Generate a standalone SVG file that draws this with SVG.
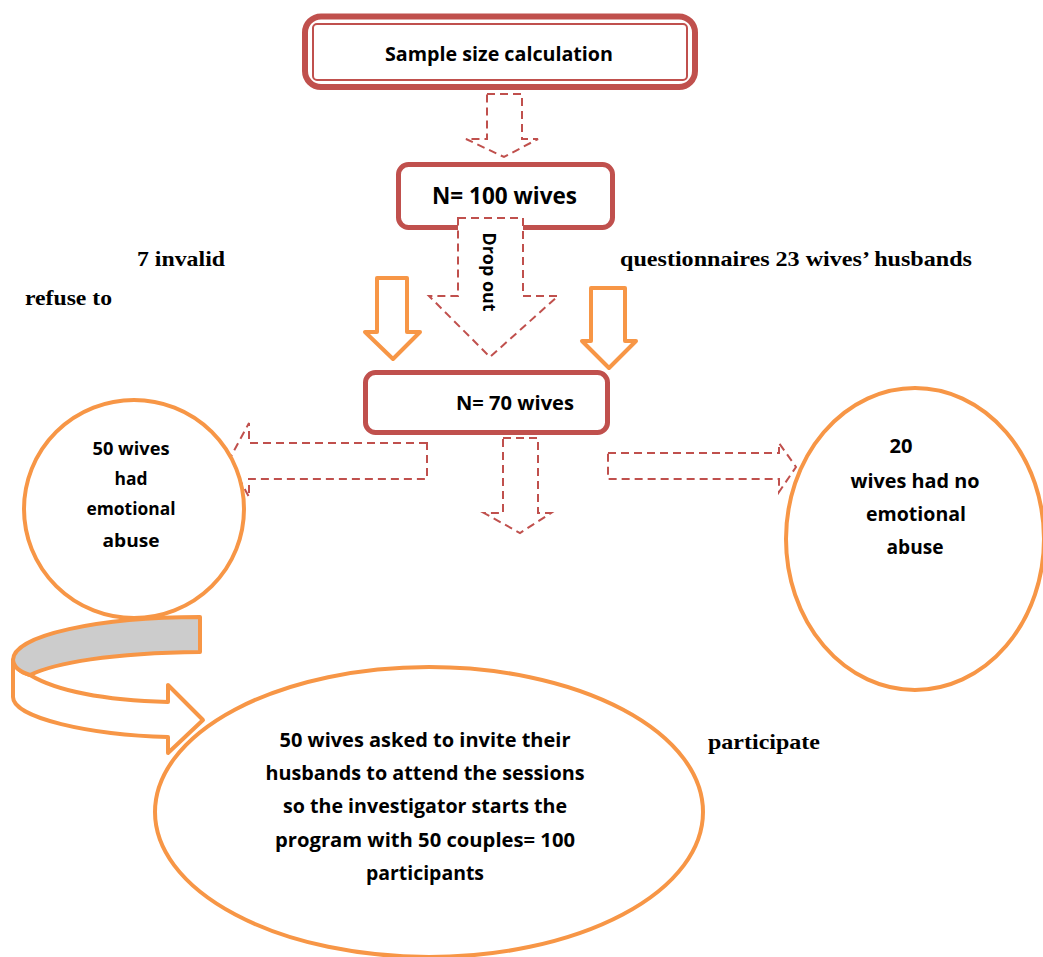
<svg xmlns="http://www.w3.org/2000/svg" width="1043" height="957" viewBox="0 0 1043 957">
<style>
.rbox{fill:#fff;stroke:#C0504D;stroke-width:5}
.dash{fill:#fff;stroke:#C0504D;stroke-width:2;stroke-dasharray:8 5}
.orng{fill:#fff;stroke:#F79646;stroke-width:4;stroke-linejoin:round}
.lbl{font-family:"Open Sans","Liberation Sans",sans-serif;font-weight:bold;fill:#000;text-anchor:middle}
.tnr{font-family:"Liberation Serif","Times New Roman",serif;font-weight:bold;font-size:22px;fill:#000}
</style>
<rect width="1043" height="957" fill="#fff"/>

<g id="node-sample">
<rect x="305" y="16.5" width="390" height="70.5" rx="16" fill="#fff" stroke="#C0504D" stroke-width="6"/>
<rect x="313" y="24" width="374" height="56" rx="4" fill="none" stroke="#C0504D" stroke-width="2"/>
<text class="lbl" x="499" y="61" font-size="20" textLength="228" lengthAdjust="spacingAndGlyphs">Sample size calculation</text>
</g>

<g id="node-n100">
<rect class="rbox" x="398.5" y="164.5" width="214" height="63" rx="10"/>
<text class="lbl" x="504.5" y="204" font-size="23" textLength="145" lengthAdjust="spacingAndGlyphs">N= 100 wives</text>
</g>

<g id="node-n70">
<rect class="rbox" x="365.5" y="372.5" width="242" height="60" rx="10"/>
<text class="lbl" x="515" y="410" font-size="19" textLength="118" lengthAdjust="spacingAndGlyphs">N= 70 wives</text>
</g>

<g id="connectors">
<polygon class="dash" points="487,94 522,94 522,139 538,139 504,157 466,139 487,139"/>
<polygon class="dash" points="458,218 523,218 523,296 558,296 490,357 429,296 458,296"/>
<text class="lbl" transform="translate(483,272) rotate(90)" font-size="17" textLength="79" lengthAdjust="spacingAndGlyphs">Drop out</text>
<polygon class="orng" points="377,278 407,278 407,332 420,332 393,359 365,332 377,332"/>
<polygon class="orng" points="591,288 625,288 625,341 636,341 609,368 582,341 591,341"/>
<polygon class="dash" points="503,438 538,438 538,513 551,513 520,533 484,513 503,513"/>
<polygon class="dash" points="427,443 249,443 249,423 229,460 249,497 249,479 427,479"/>
<polygon class="dash" points="608,453 779,453 779,443 796,467 779,492 779,479 608,479"/>
</g>

<g id="node-abuse">
<ellipse class="orng" cx="134" cy="509" rx="110" ry="109"/>
<text class="lbl" x="131" y="455" font-size="18" textLength="77" lengthAdjust="spacingAndGlyphs">50 wives</text>
<text class="lbl" x="131" y="485" font-size="18" textLength="33" lengthAdjust="spacingAndGlyphs">had</text>
<text class="lbl" x="131" y="515" font-size="18" textLength="89" lengthAdjust="spacingAndGlyphs">emotional</text>
<text class="lbl" x="131" y="547" font-size="18" textLength="57" lengthAdjust="spacingAndGlyphs">abuse</text>
</g>

<g id="node-noabuse">
<ellipse class="orng" cx="915" cy="539" rx="129" ry="151"/>
<text class="lbl" x="901" y="453" font-size="20" textLength="23" lengthAdjust="spacingAndGlyphs">20</text>
<text class="lbl" x="915" y="488" font-size="20" textLength="129" lengthAdjust="spacingAndGlyphs">wives had no</text>
<text class="lbl" x="916" y="521" font-size="20" textLength="100" lengthAdjust="spacingAndGlyphs">emotional</text>
<text class="lbl" x="915" y="554" font-size="20" textLength="57" lengthAdjust="spacingAndGlyphs">abuse</text>
</g>

<g id="node-couples">
<ellipse class="orng" cx="429" cy="812" rx="274" ry="145"/>
<text class="lbl" x="425" y="747" font-size="19" textLength="291" lengthAdjust="spacingAndGlyphs">50 wives asked to invite their</text>
<text class="lbl" x="425" y="780" font-size="19" textLength="319" lengthAdjust="spacingAndGlyphs">husbands to attend the sessions</text>
<text class="lbl" x="425" y="813" font-size="19" textLength="284" lengthAdjust="spacingAndGlyphs">so the investigator starts the</text>
<text class="lbl" x="425" y="847" font-size="19" textLength="300" lengthAdjust="spacingAndGlyphs">program with 50 couples= 100</text>
<text class="lbl" x="425" y="880" font-size="19" textLength="118" lengthAdjust="spacingAndGlyphs">participants</text>
</g>

<g id="connector-curved">
<path d="M13,660 L13,697 C13,718 90,735 168,737 L168,753 L203,720 L168,685 L168,702 C100,700 55,690 30,675 Q14,670 13,660 Z" fill="#fff" stroke="#F79646" stroke-width="4" stroke-linejoin="round"/>
<path d="M200,617 L200,652 C110,653 55,663 30,675 Q14,670 13,660 C13,635 100,617 200,617 Z" fill="#CCCCCC" stroke="#F79646" stroke-width="4" stroke-linejoin="round"/>
</g>

<g id="labels">
<text class="tnr" x="137" y="266" textLength="88" lengthAdjust="spacingAndGlyphs">7 invalid</text>
<text class="tnr" x="620" y="266" textLength="352" lengthAdjust="spacingAndGlyphs">questionnaires 23 wives’ husbands</text>
<text class="tnr" x="25" y="305" textLength="87" lengthAdjust="spacingAndGlyphs">refuse to</text>
<text class="tnr" x="708" y="749" textLength="112" lengthAdjust="spacingAndGlyphs">participate</text>
</g>
</svg>
